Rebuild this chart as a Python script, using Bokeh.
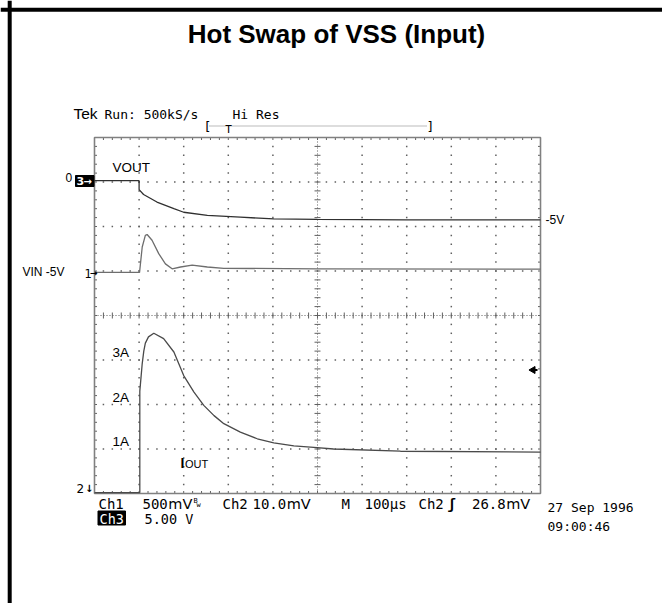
import numpy as np
from bokeh.plotting import figure
from bokeh.models import Range1d, Span
from bokeh.core.properties import value
from bokeh.embed import file_html
from bokeh.resources import INLINE

# ---------------- data (time in microseconds, amplitude in screen divisions) -------------
vout_t = [0, 100, 100, 110, 140, 178, 200, 253, 327, 402, 500, 700, 1000]
vout_y = [7.03, 7.03, 6.83, 6.72, 6.55, 6.40, 6.32, 6.25, 6.21, 6.17, 6.16, 6.15, 6.15]

vin_t = [0, 101, 107, 114, 118, 129, 144, 159, 174, 193, 219, 253, 290, 500, 1000]
vin_y = [4.97, 4.97, 5.54, 5.80, 5.82, 5.69, 5.39, 5.16, 5.05, 5.09, 5.13, 5.09, 5.06, 5.05, 5.04]

iout_t = [0, 101.6, 101.6, 107, 110.5, 114, 121, 133, 155, 178, 200, 223, 245, 268, 290,
          327, 365, 402, 447, 499, 536, 686, 1000]
iout_y = [0.02, 0.02, 2.30, 2.92, 3.20, 3.38, 3.52, 3.60, 3.48, 3.18, 2.65, 2.28, 1.98, 1.75,
          1.57, 1.38, 1.23, 1.14, 1.07, 1.03, 1.00, 0.95, 0.93]

current_labels = ["3A", "2A", "1A"]
row1_nums = ["500", "10.0", "26.8"]
row1_words = ["Ch1", "Ch2", "M", "100\u00b5s", "Ch2"]

# ---------------- geometry: page px <-> data ----------------
W, H = 662, 603
GX0, GY0 = 94.0, 493.0          # page px of grid left / grid bottom
DXP, DYP = 44.6, 44.5           # px per division
US_PER_DIV = 100.0

def cx(xpage):   # page px -> time (us)
    return (xpage - GX0) / DXP * US_PER_DIV

def cy(ypage):   # page px -> divisions
    return (GY0 - ypage) / DYP

p = figure(width=W, height=H, output_backend="svg", toolbar_location=None,
           x_range=Range1d(cx(0), cx(W)), y_range=Range1d(cy(H), cy(0)),
           min_border=0, min_border_left=0, min_border_right=0,
           min_border_top=0, min_border_bottom=0)
p.axis.visible = False
p.xgrid.visible = False
p.ygrid.visible = False
p.outline_line_color = None
p.background_fill_color = "white"
p.border_fill_color = "white"

# outer frame (left and top edges)
p.add_layout(Span(location=cx(9.2), dimension="height", line_color="black", line_width=4))
p.add_layout(Span(location=cy(9.2), dimension="width", line_color="black", line_width=4))

# ---------------- scope graticule ----------------
grid_col = "#606060"
minor = np.arange(1, 50) * 0.2
dots_x, dots_y = [], []
for k in range(1, 10):
    if k == 5:
        continue
    for m in np.arange(1, 40) * 0.2:
        dots_x.append(k * US_PER_DIV); dots_y.append(m)
for k in range(1, 8):
    if k == 4:
        continue
    for m in minor:
        dots_x.append(m * US_PER_DIV); dots_y.append(k)
p.scatter(dots_x, dots_y, marker="square", size=1.5, color=grid_col, line_color=None)

# centre cross lines
p.line([500, 500], [0, 8], line_color=grid_col, line_width=1, line_dash="1 2")
p.line([0, 1000], [4, 4], line_color=grid_col, line_width=1, line_dash="1 2")
tx = 3.0 / DXP * US_PER_DIV
ty = 3.0 / DYP
yt = np.arange(1, 40) * 0.2
xt = np.arange(1, 50) * 0.2 * US_PER_DIV
p.segment(x0=[500 - tx] * len(yt), y0=yt, x1=[500 + tx] * len(yt), y1=yt,
          line_color=grid_col, line_width=1)
p.segment(x0=xt, y0=[4 - ty] * len(xt), x1=xt, y1=[4 + ty] * len(xt),
          line_color=grid_col, line_width=1)

# border ticks (inward)
bt_x = 2.5 / DXP * US_PER_DIV
bt_y = 2.5 / DYP
p.segment(x0=[0] * len(yt), y0=yt, x1=[bt_x] * len(yt), y1=yt, line_color=grid_col)
p.segment(x0=[1000] * len(yt), y0=yt, x1=[1000 - bt_x] * len(yt), y1=yt, line_color=grid_col)
p.segment(x0=xt, y0=[0] * len(xt), x1=xt, y1=[bt_y] * len(xt), line_color=grid_col)
p.segment(x0=xt, y0=[8] * len(xt), x1=xt, y1=[8 - bt_y] * len(xt), line_color=grid_col)

p.quad(left=[0], right=[1000], bottom=[0], top=[8], fill_color=None,
       line_color="#808080", line_width=1.6)

# ---------------- traces ----------------
p.line(vout_t, vout_y, line_color="#303030", line_width=1.3)
p.line(vin_t, vin_y, line_color="#6e6e6e", line_width=1.3)
p.line(iout_t, iout_y, line_color="#4a4a4a", line_width=1.3)

# ---------------- texts ----------------
ARIAL = value("Liberation Sans")
SCOPE = value("DejaVu Sans Mono")
SANS = value("DejaVu Sans")

def txt(x, y, s, size="13px", font=ARIAL, align="left", color="black", style="normal"):
    p.text(x=[x], y=[y], text=[s], text_font=font, text_font_size=value(size),
           text_align=align, text_baseline="middle", text_color=color,
           text_font_style=style)

txt(cx(336), cy(33), "Hot Swap of VSS (Input)", size="26px", align="center", style="bold")

txt(cx(73), cy(113), "Tek", size="15.5px")
txt(cx(104), cy(113.5), "Run: 500kS/s", size="13px", font=SCOPE)
txt(cx(232), cy(113.5), "Hi Res", size="13px", font=SCOPE)

# record-position bracket
txt(cx(203), cy(126), "[", size="13px", font=SCOPE)
txt(cx(426), cy(126), "]", size="13px", font=SCOPE)
p.line([cx(209), cx(427)], [cy(125.5), cy(125.5)], line_color="#777", line_dash="1 1")
txt(cx(228), cy(128.5), "T", size="11px", font=SCOPE, align="center")

# channel markers
txt(cx(112), cy(167), "VOUT", size="13.5px")
txt(cx(65), cy(177), "0", size="12px")
p.quad(left=[cx(75)], right=[cx(93.5)], bottom=[cy(186)], top=[cy(175)], color="black")
txt(cx(76), cy(180.5), "3", size="11px", font=SANS, color="white", style="bold")
txt(cx(83), cy(180.5), "\u2192", size="10px", font=SANS, color="white", style="bold")

txt(cx(22), cy(271.5), "VIN -5V", size="12px")
txt(cx(84), cy(272.5), "1", size="11.5px", font=SANS)
txt(cx(89.5), cy(272.5), "\u2192", size="9px", font=SANS, style="bold")
txt(cx(545), cy(219.5), "-5V", size="12px")

for lab, yy in zip(current_labels, [352, 396.5, 441]):
    txt(cx(112), cy(yy), lab, size="13.5px")

txt(cx(180), cy(462), "I", size="14px", style="bold")
txt(cx(184.5), cy(463), "OUT", size="11px")
txt(cx(76), cy(487.5), "2", size="12px", font=SANS)
txt(cx(84.5), cy(488), "\u2193", size="10px", font=SANS, style="bold")

# trigger level arrow on right edge
p.scatter([cx(532.5)], [cy(369.5)], marker="triangle", angle=np.pi / 2, size=7, color="black")
p.line([cx(532), cx(537)], [cy(369.5), cy(369.5)], line_color="black", line_width=2)

# bottom read-outs
for s, xx in zip(row1_words, [98, 222, 341, 364, 418]):
    txt(cx(xx), cy(503.5), s, size="14px", font=SCOPE)
for s, xx in zip(row1_nums, [142, 252, 471.5]):
    txt(cx(xx), cy(503.5), s, size="14px", font=SCOPE)
    txt(cx(xx + len(s) * 8.43 + 0.5), cy(503.5), "mV", size="14.5px", font=SANS)
txt(cx(193), cy(500), "B", size="7px", font=SCOPE)
txt(cx(196), cy(504.5), "w", size="7px", font=SCOPE)
txt(cx(447), cy(503.5), "\u0283", size="14px", font=SCOPE, style="bold")
p.quad(left=[cx(97.5)], right=[cx(125)], bottom=[cy(524.5)], top=[cy(510.5)], color="black")
txt(cx(99), cy(518), "Ch3", size="13.5px", font=SCOPE, color="white")
txt(cx(144), cy(518), "5.00 V", size="13.5px", font=SCOPE)
txt(cx(547), cy(507), "27 Sep 1996", size="13px", font=SCOPE)
txt(cx(547), cy(526), "09:00:46", size="13px", font=SCOPE)

open("out.html", "w").write(file_html(p, INLINE))
